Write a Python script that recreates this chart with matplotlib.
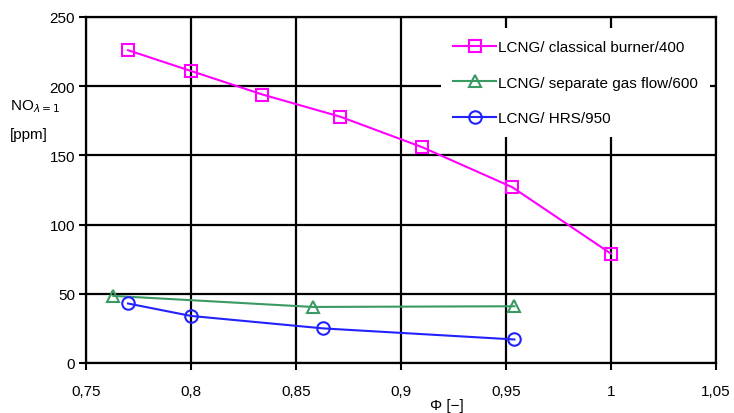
import matplotlib
matplotlib.use("Agg")
import matplotlib.pyplot as plt

plt.rcParams['font.family'] = ['Liberation Sans', 'DejaVu Sans']

# Equivalence ratio (x) and NO emissions (y) per burner configuration
phi_classical = [0.770, 0.800, 0.834, 0.871, 0.910, 0.953, 1.000]
no_classical = [226, 211, 194, 178, 156, 127, 79]

phi_separate = [0.763, 0.858, 0.954]
no_separate = [48.5, 40.5, 41]

phi_hrs = [0.770, 0.800, 0.863, 0.954]
no_hrs = [43, 34, 25, 17]

labels = ["LCNG/ classical burner/400",
          "LCNG/ separate gas flow/600",
          "LCNG/ HRS/950"]
x_ticks = [0.75, 0.8, 0.85, 0.9, 0.95, 1.0, 1.05]
x_tick_labels = ["0,75", "0,8", "0,85", "0,9", "0,95", "1", "1,05"]
y_ticks = [0, 50, 100, 150, 200, 250]

fig = plt.figure(figsize=(7.34, 4.14), dpi=100)
ax = fig.add_axes([86/734, 1 - 364/414, (716-86)/734, (364-18)/414])

ax.plot(phi_classical, no_classical, color="#ff00ff", lw=1.5, marker="s",
        ms=9, mfc="none", mew=1.5, label=labels[0], zorder=3)
ax.plot(phi_separate, no_separate, color="#3a9a62", lw=1.5, marker="^",
        ms=8.5, mfc="none", mew=1.5, label=labels[1], zorder=3)
ax.plot(phi_hrs, no_hrs, color="#2222ff", lw=1.5, marker="o",
        ms=9, mfc="none", mew=1.5, label=labels[2], zorder=3)

ax.set_xlim(0.75, 1.05)
ax.set_ylim(0, 250)
ax.set_xticks(x_ticks)
ax.set_xticklabels(x_tick_labels)
ax.set_yticks(y_ticks)
ax.grid(True, color="black", lw=1.6)
ax.set_axisbelow(True)
for s in ax.spines.values():
    s.set_color("black")
    s.set_linewidth(1.6)
ax.tick_params(axis="both", direction="out", length=5, width=1.5,
               labelsize=11, colors="black")
ax.tick_params(axis="y", pad=3)
ax.tick_params(axis="x", pad=10)

fig.text(10/734, 1 - 107/414, "NO$_{\\lambda=1}$", fontsize=11,
         ha="left", va="center")
fig.text(10/734, 1 - 135/414, "[ppm]", fontsize=11,
         ha="left", va="center")
fig.text(447/734, 1 - 406/414, "Φ [−]", fontsize=11, ha="center",
         va="center")

leg = ax.legend(loc="upper left", bbox_to_anchor=(441/734, 1 - 29/414),
                bbox_transform=fig.transFigure, frameon=True, fancybox=False,
                edgecolor="white", framealpha=1, fontsize=11,
                handlelength=2.8, handletextpad=0.15, labelspacing=1.4,
                borderpad=0.8, borderaxespad=0)
leg.get_frame().set_linewidth(0)

fig.savefig("out.png", dpi=100)
